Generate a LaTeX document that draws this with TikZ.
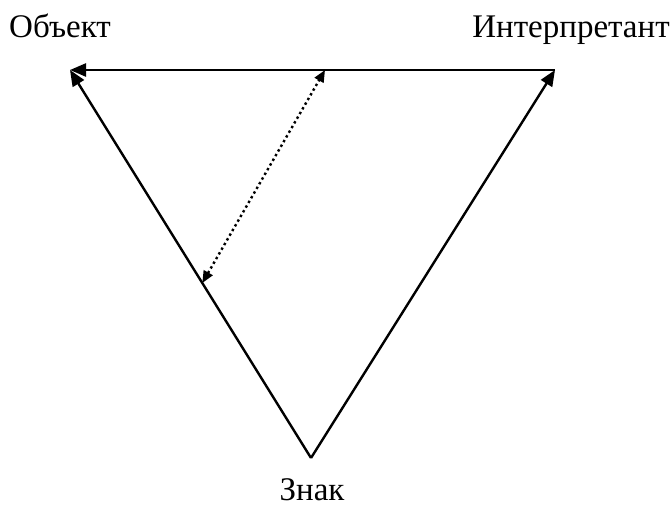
\documentclass[tikz,border=0pt]{standalone}
\usepackage{fontspec}
\setmainfont{Liberation Serif}
\usetikzlibrary{arrows.meta,calc}
\begin{document}
\begin{tikzpicture}[x=1pt,y=1pt,
  edge/.style={line width=2.4pt,-{Triangle[length=16pt,width=13pt]}},
  dotline/.style={line width=2.4pt,dash pattern=on 2.4pt off 3pt,{Triangle[length=12pt,width=10pt]}-{Triangle[length=12pt,width=10pt]}},
  lbl/.style={font=\fontsize{33}{36}\selectfont,inner sep=0pt,anchor=base}]
\useasboundingbox (0,0) rectangle (672,518);
\coordinate (O) at (70,448);
\coordinate (I) at (555,448);
\coordinate (Z) at (311,60);
\coordinate (D1) at (325,448);
\coordinate (D2) at ($(Z)!0.451!(O)$);
\draw[edge] (I) -- (O);
\draw[edge] (Z) -- (O);
\draw[edge] (Z) -- (I);
\draw[dotline] (D2) -- (D1);
\node[lbl] (lo) at (60,480) {Объект};
\node[lbl] (li) at (571,480) {Интерпретант};
\node[lbl] (lz) at (312,17) {Знак};
\end{tikzpicture}
\end{document}
